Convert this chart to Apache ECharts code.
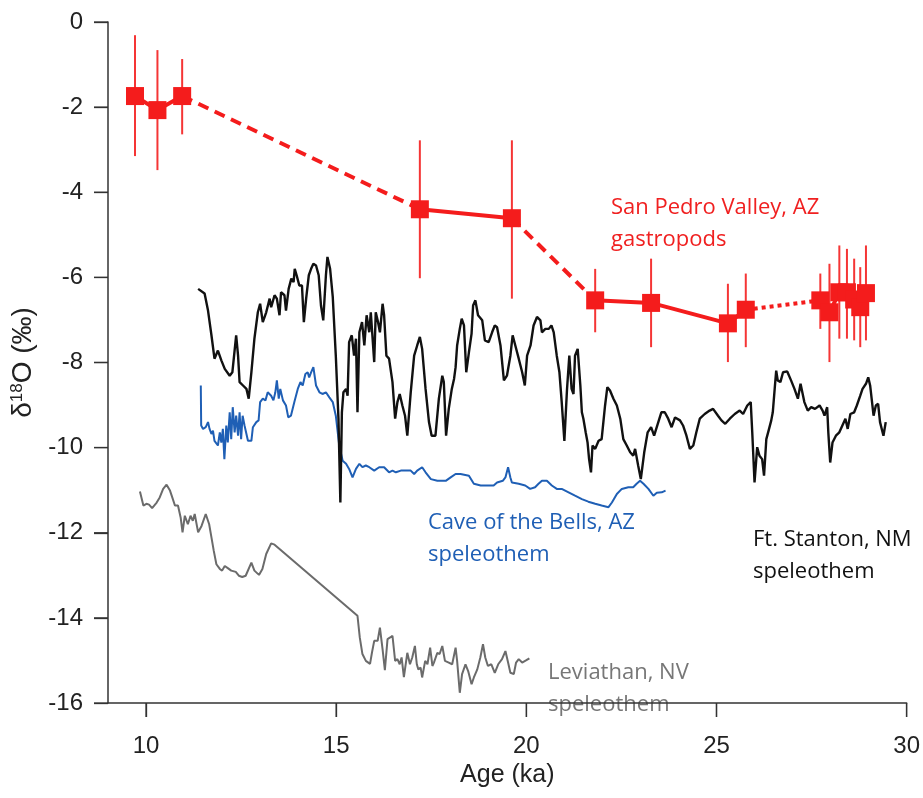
<!DOCTYPE html>
<html>
<head>
<meta charset="utf-8">
<script src="https://cdn.jsdelivr.net/npm/echarts@6/dist/echarts.min.js"></script>
<style>
html,body{margin:0;padding:0;background:#fff;}
#chart{width:923px;height:798px;}
</style>
</head>
<body>
<div id="chart"></div>
<script>
// ---------------- DATA ----------------
// San Pedro Valley, AZ gastropods
const redAge   = [9.71, 10.30, 10.95, 17.20, 19.62, 21.81, 23.28, 25.30, 25.77, 27.73, 27.97, 28.23, 28.43, 28.62, 28.78, 28.93];
const redD18O  = [-1.74, -2.07, -1.74, -4.40, -4.61, -6.54, -6.60, -7.08, -6.76, -6.54, -6.82, -6.35, -6.35, -6.52, -6.70, -6.37];
const redErrHi = [-0.31, -0.66, -0.87, -2.78, -2.78, -5.80, -5.56, -6.15, -5.91, -5.91, -5.68, -5.25, -5.33, -5.56, -5.76, -5.25];
const redErrLo = [-3.15, -3.48, -2.64, -6.02, -6.50, -7.29, -7.64, -7.99, -7.64, -7.21, -7.99, -7.44, -7.44, -7.48, -7.64, -7.48];
// index ranges of connecting segments and their line style
const redSegments = [
  {from: 0, to: 2, style: 'solid'},
  {from: 2, to: 3, style: 'dashed'},
  {from: 3, to: 4, style: 'solid'},
  {from: 4, to: 5, style: 'dashed'},
  {from: 5, to: 8, style: 'solid'},
  {from: 8, to: 9, style: 'dotted'},
  {from: 9, to: 15, style: 'solid'}
];

// Ft. Stanton, NM speleothem
const ftAge = [11.37,11.54,11.63,11.72,11.80,11.89,11.98,12.07,12.20,12.27,12.37,12.42,12.46,12.55,12.64,12.70,12.77,12.85,12.94,13.00,
  13.07,13.16,13.25,13.29,13.38,13.44,13.51,13.55,13.64,13.68,13.75,13.82,13.88,13.91,13.96,14.03,14.10,14.15,14.21,14.28,
  14.34,14.40,14.47,14.54,14.60,14.66,14.73,14.77,14.84,14.91,14.99,15.06,15.11,15.15,15.19,15.26,15.30,15.34,15.41,15.47,
  15.52,15.56,15.61,15.68,15.74,15.80,15.87,15.91,16.00,16.04,16.10,16.15,16.22,16.26,16.32,16.39,16.48,16.55,16.61,16.67,
  16.74,16.81,16.87,16.96,17.05,17.13,17.20,17.26,17.35,17.44,17.51,17.61,17.70,17.79,17.83,17.89,17.96,18.04,18.10,18.14,
  18.18,18.25,18.30,18.36,18.42,18.49,18.56,18.60,18.66,18.73,18.84,18.91,19.01,19.10,19.17,19.23,19.32,19.41,19.49,19.58,
  19.64,19.71,19.80,19.89,19.96,20.02,20.11,20.19,20.28,20.37,20.41,20.50,20.59,20.66,20.72,20.80,20.87,20.93,21.00,21.07,
  21.13,21.19,21.24,21.28,21.35,21.42,21.46,21.50,21.56,21.61,21.65,21.70,21.74,21.81,21.90,21.98,22.07,22.13,22.20,22.29,
  22.38,22.47,22.55,22.64,22.73,22.81,22.86,22.94,23.01,23.10,23.19,23.28,23.36,23.47,23.55,23.64,23.73,23.82,23.91,24.04,
  24.12,24.21,24.30,24.39,24.47,24.56,24.69,24.82,24.91,25.04,25.13,25.23,25.35,25.48,25.61,25.70,25.81,25.90,25.94,26.00,
  26.07,26.13,26.20,26.25,26.31,26.37,26.44,26.48,26.53,26.57,26.61,26.68,26.75,26.86,26.96,27.05,27.14,27.21,27.31,27.40,
  27.49,27.59,27.71,27.79,27.84,27.91,27.94,27.99,28.05,28.14,28.23,28.31,28.39,28.45,28.52,28.62,28.69,28.78,28.84,28.93,
  28.99,29.04,29.13,29.19,29.25,29.30,29.39,29.45];
const ftD18O = [-6.27,-6.38,-6.78,-7.36,-7.91,-7.72,-7.95,-8.15,-8.31,-8.23,-7.36,-7.84,-8.46,-8.54,-8.62,-8.85,-8.23,-7.44,-6.82,-6.62,
  -7.05,-6.82,-6.50,-6.70,-6.42,-6.50,-6.89,-6.35,-6.42,-6.78,-6.27,-6.03,-6.11,-5.80,-5.95,-6.19,-6.19,-7.05,-6.50,-5.95,
  -5.80,-5.68,-5.72,-5.95,-6.66,-7.01,-5.95,-5.52,-5.80,-6.46,-7.84,-9.32,-11.29,-9.17,-8.70,-8.62,-8.78,-7.52,-7.36,-7.84,
  -7.44,-9.17,-7.29,-7.05,-7.60,-6.89,-7.29,-6.82,-7.99,-6.82,-7.05,-7.29,-6.62,-6.89,-7.84,-7.91,-8.46,-9.32,-8.93,-8.74,
  -9.01,-9.25,-9.72,-8.70,-7.84,-7.60,-7.40,-7.68,-8.62,-9.40,-9.72,-9.72,-8.85,-8.31,-8.46,-9.72,-9.09,-8.62,-8.38,-8.11,
  -7.60,-7.21,-6.97,-7.13,-8.23,-7.76,-7.32,-6.66,-6.54,-6.89,-7.01,-7.48,-7.52,-7.29,-7.13,-7.17,-7.60,-8.42,-8.31,-7.84,
  -7.36,-7.60,-7.91,-8.23,-8.54,-7.84,-7.60,-7.13,-6.93,-7.01,-7.29,-7.21,-7.21,-7.13,-7.29,-7.84,-8.23,-8.93,-9.84,-8.62,
  -7.84,-8.62,-8.74,-7.84,-7.68,-8.54,-9.17,-9.32,-9.64,-9.88,-10.27,-10.58,-9.95,-10.03,-9.84,-9.80,-9.01,-8.58,-8.66,-8.85,
  -9.01,-9.32,-9.80,-9.95,-10.11,-10.19,-10.03,-10.42,-10.74,-10.11,-9.64,-9.52,-9.72,-9.40,-9.17,-9.17,-9.32,-9.52,-9.29,-9.36,
  -9.48,-9.72,-10.03,-9.95,-9.64,-9.32,-9.21,-9.13,-9.09,-9.25,-9.36,-9.44,-9.32,-9.21,-9.13,-9.21,-9.01,-8.93,-9.64,-10.82,
  -9.99,-10.19,-10.27,-10.66,-9.80,-9.60,-9.36,-9.17,-8.62,-8.19,-8.42,-8.46,-8.23,-8.21,-8.42,-8.62,-8.85,-8.50,-8.93,-9.13,
  -9.05,-9.09,-9.01,-9.13,-9.25,-9.05,-9.64,-10.35,-9.88,-9.72,-9.64,-9.48,-9.32,-9.56,-9.21,-9.17,-9.01,-8.78,-8.62,-8.50,
  -8.35,-8.54,-9.25,-9.01,-8.97,-9.40,-9.72,-9.40];

// Cave of the Bells, AZ speleothem
const cbAge = [11.44,11.45,11.50,11.57,11.63,11.67,11.72,11.76,11.80,11.85,11.89,11.94,11.98,12.02,12.06,12.11,12.15,12.20,12.24,12.28,
  12.33,12.37,12.42,12.46,12.50,12.54,12.59,12.68,12.77,12.81,12.90,12.96,13.00,13.07,13.14,13.20,13.29,13.35,13.40,13.44,
  13.49,13.53,13.60,13.68,13.74,13.81,13.90,13.99,14.06,14.12,14.19,14.25,14.29,14.34,14.40,14.47,14.56,14.64,14.73,14.82,
  14.91,14.99,15.08,15.17,15.26,15.34,15.43,15.52,15.61,15.69,15.78,15.87,16.00,16.13,16.26,16.39,16.48,16.57,16.70,16.83,
  16.96,17.05,17.13,17.26,17.35,17.49,17.66,17.88,18.01,18.14,18.27,18.49,18.62,18.80,18.97,19.14,19.23,19.38,19.45,19.52,
  19.58,19.62,19.80,19.97,20.10,20.23,20.32,20.41,20.54,20.67,20.80,20.93,21.11,21.28,21.46,21.63,21.81,21.98,22.16,22.25,
  22.38,22.51,22.68,22.81,22.90,22.99,23.08,23.21,23.34,23.43,23.56,23.66];
const cbD18O = [-8.54,-9.48,-9.56,-9.52,-9.40,-9.56,-9.68,-9.60,-9.84,-9.80,-9.95,-9.64,-9.88,-9.56,-10.27,-9.48,-9.88,-9.17,-9.80,-9.05,
  -9.64,-9.25,-9.72,-9.17,-9.80,-9.25,-9.48,-9.84,-9.84,-9.52,-9.40,-9.36,-8.93,-8.85,-8.89,-8.70,-8.78,-8.89,-8.70,-8.42,
  -8.85,-8.62,-8.89,-9.01,-9.29,-9.25,-8.93,-8.62,-8.46,-8.54,-8.27,-8.23,-8.35,-8.23,-8.11,-8.54,-8.70,-8.74,-8.70,-8.82,
  -8.93,-9.25,-9.95,-10.31,-10.38,-10.50,-10.70,-10.50,-10.38,-10.46,-10.42,-10.46,-10.54,-10.46,-10.46,-10.58,-10.54,-10.58,-10.54,-10.54,
  -10.54,-10.62,-10.54,-10.46,-10.58,-10.74,-10.78,-10.78,-10.70,-10.62,-10.62,-10.66,-10.85,-10.89,-10.89,-10.89,-10.82,-10.78,-10.70,-10.46,
  -10.70,-10.82,-10.85,-10.89,-10.97,-10.93,-10.85,-10.78,-10.78,-10.89,-10.97,-10.97,-11.05,-11.13,-11.21,-11.27,-11.32,-11.36,-11.40,-11.29,
  -11.09,-10.97,-10.93,-10.93,-10.85,-10.78,-10.85,-10.97,-11.13,-11.06,-11.05,-11.01];

// Leviathan, NV speleothem
const lvAge = [9.84,9.93,10.01,10.08,10.16,10.28,10.36,10.45,10.54,10.63,10.69,10.76,10.84,10.91,10.96,11.02,11.10,11.17,11.23,11.28,
  11.37,11.46,11.57,11.66,11.72,11.78,11.85,11.94,12.00,12.07,12.15,12.24,12.36,12.44,12.53,12.62,12.77,12.85,12.97,13.06,
  13.16,13.29,13.38,15.56,15.62,15.69,15.78,15.89,15.94,16.00,16.09,16.15,16.22,16.28,16.35,16.42,16.48,16.55,16.61,16.67,
  16.72,16.78,16.87,16.94,17.00,17.07,17.12,17.16,17.22,17.26,17.34,17.40,17.47,17.53,17.57,17.66,17.72,17.79,17.86,17.96,
  18.05,18.14,18.18,18.25,18.31,18.40,18.47,18.56,18.62,18.71,18.79,18.86,18.92,18.99,19.08,19.17,19.26,19.36,19.45,19.52,
  19.58,19.67,19.73,19.80,19.89,19.99,20.08];
const lvD18O = [-11.03,-11.36,-11.32,-11.34,-11.42,-11.29,-11.17,-10.97,-10.87,-11.01,-11.17,-11.36,-11.36,-11.64,-11.99,-11.60,-11.80,-11.60,-11.72,-11.56,
  -11.99,-11.84,-11.56,-11.80,-12.11,-12.42,-12.74,-12.85,-12.89,-12.78,-12.83,-12.89,-12.92,-13.01,-13.04,-13.01,-12.70,-12.89,-12.99,-12.85,
  -12.50,-12.25,-12.28,-13.95,-14.46,-14.85,-15.01,-15.08,-14.82,-14.54,-14.54,-14.23,-14.74,-15.23,-14.50,-14.46,-14.42,-15.01,-14.97,-15.09,
  -14.93,-15.39,-14.82,-15.09,-14.93,-14.66,-15.09,-15.21,-15.17,-15.40,-15.01,-15.09,-14.70,-15.13,-15.05,-14.82,-14.85,-14.66,-15.01,-15.05,
  -15.09,-14.70,-15.01,-15.76,-15.32,-15.09,-15.25,-15.56,-15.40,-15.21,-14.93,-14.62,-14.93,-15.13,-15.09,-15.29,-15.09,-14.97,-14.78,-15.05,
  -15.29,-15.32,-15.05,-14.97,-15.05,-15.00,-14.95];

const xTicks = [10, 15, 20, 25, 30];
const yTicks = [0, -2, -4, -6, -8, -10, -12, -14, -16];
const X_MIN = 9, X_MAX = 30, Y_MIN = -16, Y_MAX = 0;

// ---------------- CHART ----------------
const zip = (a, b) => a.map((v, i) => [v, b[i]]);
const RED = '#f41c1c';
const RED_BAR = '#f53535';
const AXIS = '#333';
const TICK_LEN = 14;

const chart = echarts.init(document.getElementById('chart'), null, {renderer: 'canvas'});

const redSeries = redSegments.map(seg => ({
  type: 'line',
  data: zip(redAge, redD18O).slice(seg.from, seg.to + 1),
  showSymbol: false,
  symbol: 'none',
  lineStyle: {
    color: RED,
    width: 4,
    type: seg.style === 'dashed' ? [11, 7] : seg.style === 'dotted' ? [4, 4] : 'solid'
  },
  z: 6,
  silent: true
}));

const option = {
  animation: false,
  backgroundColor: '#fff',
  grid: {left: 108, right: 15, top: 22, bottom: 95, containLabel: false},
  xAxis: {
    type: 'value',
    min: X_MIN, max: X_MAX,
    name: 'Age (ka)',
    nameLocation: 'middle',
    nameGap: 60,
    nameTextStyle: {fontFamily: 'Liberation Sans', fontSize: 25, color: '#222'},
    axisLine: {show: true, onZero: false, lineStyle: {color: AXIS, width: 1.5}},
    axisTick: {show: true, length: TICK_LEN, customValues: xTicks, lineStyle: {color: AXIS, width: 1.3}},
    axisLabel: {customValues: xTicks, margin: 31, fontFamily: 'Liberation Sans', fontSize: 24, color: '#222'},
    splitLine: {show: false}
  },
  yAxis: {
    type: 'value',
    min: Y_MIN, max: Y_MAX, interval: 2,
    name: 'δ{sup|18}O (‰)',
    nameLocation: 'middle',
    nameGap: 58,
    nameRotate: 90,
    nameTextStyle: {
      fontFamily: 'Liberation Sans', fontSize: 28, color: '#222',
      rich: {sup: {fontSize: 17, fontFamily: 'Liberation Sans', color: '#222', padding: [0, 0, 13, 0]}}
    },
    axisLine: {show: true, onZero: false, lineStyle: {color: AXIS, width: 1.5}},
    axisTick: {show: true, length: TICK_LEN, lineStyle: {color: AXIS, width: 1.3}},
    axisLabel: {margin: 25, fontFamily: 'Liberation Sans', fontSize: 24, color: '#222'},
    splitLine: {show: false}
  },
  series: [
    {
      type: 'custom', name: 'yTicks', silent: true, z: 1,
      data: yTicks.map(v => [X_MIN, v]),
      renderItem: function (params, api) {
        const p = api.coord([api.value(0), api.value(1)]);
        return {type: 'line', shape: {x1: p[0] - TICK_LEN, y1: p[1], x2: p[0], y2: p[1]}, style: {stroke: AXIS, lineWidth: 1.3}};
      }
    },
    {
      type: 'custom', name: 'xTicks', silent: true, z: 1,
      data: xTicks.map(v => [v, Y_MIN]),
      renderItem: function (params, api) {
        const p = api.coord([api.value(0), api.value(1)]);
        return {type: 'line', shape: {x1: p[0], y1: p[1], x2: p[0], y2: p[1] + TICK_LEN}, style: {stroke: AXIS, lineWidth: 1.3}};
      }
    },
    {
      type: 'line', name: 'Leviathan, NV', data: zip(lvAge, lvD18O),
      showSymbol: false, symbol: 'none',
      lineStyle: {color: '#6b6b6b', width: 2}, z: 2, silent: true
    },
    {
      type: 'line', name: 'Cave of the Bells, AZ', data: zip(cbAge, cbD18O),
      showSymbol: false, symbol: 'none',
      lineStyle: {color: '#1f5fb5', width: 2}, z: 3, silent: true
    },
    {
      type: 'line', name: 'Ft. Stanton, NM', data: zip(ftAge, ftD18O),
      showSymbol: false, symbol: 'none',
      lineStyle: {color: '#111', width: 2.4}, z: 4, silent: true
    },
    {
      type: 'custom', name: 'errorbars',
      data: redAge.map((a, i) => [a, redErrHi[i], redErrLo[i]]),
      renderItem: function (params, api) {
        const top = api.coord([api.value(0), api.value(1)]);
        const bot = api.coord([api.value(0), api.value(2)]);
        return {
          type: 'line',
          shape: {x1: top[0], y1: top[1], x2: bot[0], y2: bot[1]},
          style: {stroke: RED_BAR, lineWidth: 2}
        };
      },
      z: 5, silent: true
    },
    ...redSeries,
    {
      type: 'scatter', name: 'San Pedro Valley, AZ', data: zip(redAge, redD18O),
      symbol: 'rect', symbolSize: 18,
      itemStyle: {color: RED, opacity: 1}, z: 7, silent: true
    }
  ],
  graphic: [
    {type: 'text', left: 611, top: 192, style: {text: 'San Pedro Valley, AZ\ngastropods', fill: '#f02020', font: '22px "Open Sans"', lineHeight: 32}},
    {type: 'text', left: 428, top: 507, style: {text: 'Cave of the Bells, AZ\nspeleothem', fill: '#1f5fb5', font: '22px "Open Sans"', lineHeight: 32}},
    {type: 'text', left: 753, top: 524, style: {text: 'Ft. Stanton, NM\nspeleothem', fill: '#111', font: '22px "Open Sans"', lineHeight: 32}},
    {type: 'text', left: 548, top: 657, style: {text: 'Leviathan, NV\nspeleothem', fill: '#777', font: '22px "Open Sans"', lineHeight: 32}}
  ]
};

chart.setOption(option);
</script>
</body>
</html>
